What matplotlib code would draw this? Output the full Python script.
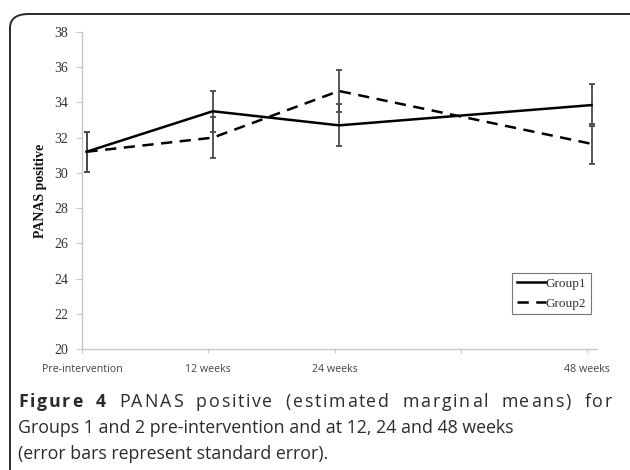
import matplotlib
matplotlib.use("Agg")
import matplotlib.pyplot as plt
import matplotlib.transforms as mtransforms
from matplotlib.patches import FancyBboxPatch

weeks = [0, 12, 24, 48]
tick_weeks = [0, 12, 24, 36, 48]
tick_labels = ["Pre-intervention", "12 weeks", "24 weeks", "", "48 weeks"]
group1_mean = [31.2, 33.5, 32.7, 33.85]
group1_se = [1.15, 1.15, 1.2, 1.2]
group2_mean = [31.2, 32.0, 34.65, 31.65]
group2_se = [1.15, 1.15, 1.2, 1.15]
y_ticks = [20, 22, 24, 26, 28, 30, 32, 34, 36, 38]

W, H = 630, 470
fig = plt.figure(figsize=(W / 100, H / 100), dpi=100)
fig.patch.set_facecolor("white")

# outer rounded frame
frame = FancyBboxPatch((10 / W, -0.2), 1.2, (H - 14) / H + 0.2,
                       boxstyle="round,pad=0,rounding_size=0.03",
                       transform=fig.transFigure, fill=False,
                       edgecolor="#2a2a2a", linewidth=1.4, zorder=0)
fig.patches.append(frame)

ax = fig.add_axes([82 / W, 1 - 349 / H, (597 - 82) / W, (349 - 32) / H])
ax.set_xlim(0, 48.95)
ax.set_ylim(20, 38)

offset = mtransforms.offset_copy(ax.transData, fig=fig, x=4.5, y=0, units="dots")

ebkw = dict(ecolor="#4a4a4a", elinewidth=1.3, capsize=2.2, capthick=1.3,
            transform=offset, zorder=2)
ax.errorbar(weeks, group1_mean, yerr=group1_se, fmt="none", **ebkw)
ax.errorbar(weeks, group2_mean, yerr=group2_se, fmt="none", **ebkw)
ax.plot(weeks, group1_mean, color="black", linewidth=1.8, linestyle="-",
        transform=offset, label="Group1", zorder=3)
ax.plot(weeks, group2_mean, color="black", linewidth=1.8, linestyle=(0, (4.5, 3)),
        transform=offset, label="Group2", zorder=3)

for side in ["top", "right"]:
    ax.spines[side].set_visible(False)
for side in ["left", "bottom"]:
    ax.spines[side].set_color("#c8c8c8")
    ax.spines[side].set_linewidth(1.0)

ax.set_yticks(y_ticks)
ax.set_yticklabels([str(v) for v in y_ticks], fontfamily="Liberation Serif",
                   fontsize=10, color="#333333")
ax.set_xticks(tick_weeks)
ax.set_xticklabels(tick_labels, fontfamily="Open Sans", fontsize=7.7, color="#444444")
ax.tick_params(axis="y", direction="out", length=4, color="#c8c8c8", pad=6)
ax.tick_params(axis="x", direction="out", length=3, color="#c8c8c8", pad=8)

ax.set_ylabel("PANAS positive", fontfamily="Liberation Serif", fontweight="bold",
              fontsize=10, color="#111111", labelpad=5)

leg = ax.legend(loc="lower right", bbox_to_anchor=(0.988, 0.11),
                prop={"family": "Liberation Serif", "size": 9.5},
                frameon=True, fancybox=False, handlelength=2.2,
                borderpad=0.35, labelspacing=0.55, handletextpad=0.0,
                borderaxespad=0.0)
leg.get_frame().set_edgecolor("#555555")
leg.get_frame().set_linewidth(0.8)
for t in leg.get_texts():
    t.set_color("#333333")

# caption
cap_color = "#2b2b2b"
cap_fs = 12.8
fig.canvas.draw()
renderer = fig.canvas.get_renderer()

# first line: justified (word spacing plus a little letter spacing)
segments = [("Figure 4", "bold"), (" PANAS positive (estimated marginal means) for", "normal")]
chars = []
for s, wt in segments:
    for ch in s:
        chars.append((ch, wt))
x0, x1 = 18, 612
y1 = H - 402
objs = []
total = 0.0
for ch, wt in chars:
    if ch == " ":
        t = fig.text(0, 0, "a a", fontfamily="Open Sans", fontweight=wt, fontsize=cap_fs)
        wa = fig.text(0, 0, "aa", fontfamily="Open Sans", fontweight=wt, fontsize=cap_fs)
        w = t.get_window_extent(renderer).width - wa.get_window_extent(renderer).width
        t.remove()
        wa.remove()
        objs.append((None, w))
    else:
        t = fig.text(0, 0, ch, fontfamily="Open Sans", fontweight=wt, fontsize=cap_fs,
                     color=cap_color, va="center", ha="left")
        w = t.get_window_extent(renderer).width
        objs.append((t, w))
    total += w
weights = [4.0 if t is None else 1.0 for t, _ in objs[:-1]]
unit = (x1 - x0 - total) / sum(weights)
x = x0
for i, (t, w) in enumerate(objs):
    if t is not None:
        t.set_position((x / W, y1 / H))
    if i < len(weights):
        x += w + unit * weights[i]

fig.text(x0 / W, (H - 428) / H, "Groups 1 and 2 pre-intervention and at 12, 24 and 48 weeks",
         fontfamily="Open Sans", fontsize=cap_fs, color=cap_color, va="center", ha="left")
fig.text(x0 / W, (H - 454) / H, "(error bars represent standard error).",
         fontfamily="Open Sans", fontsize=cap_fs, color=cap_color, va="center", ha="left")

fig.savefig("out.png", dpi=100, facecolor="white")
